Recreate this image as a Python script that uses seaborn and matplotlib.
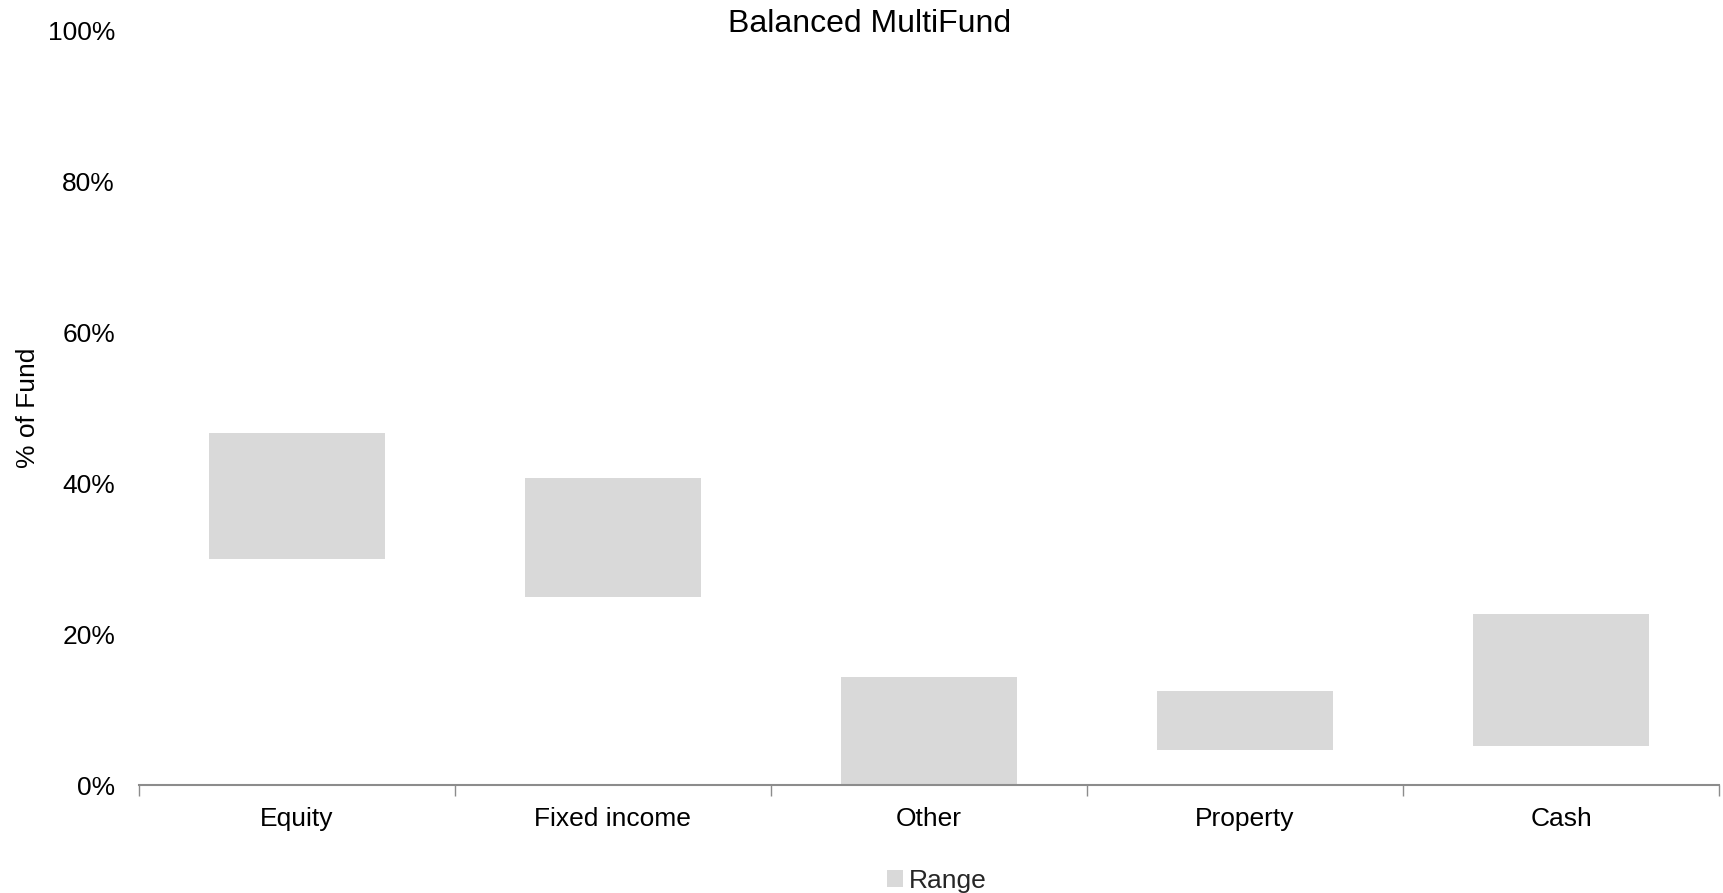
import matplotlib
matplotlib.use("Agg")
import matplotlib.pyplot as plt
from matplotlib.patches import Patch
from matplotlib.ticker import FixedLocator
import seaborn as sns
import pandas as pd

# Allocation ranges (% of fund)
categories = ["Equity", "Fixed income", "Other", "Property", "Cash"]
range_low = [30.0, 24.9, 0.0, 4.7, 5.2]
range_high = [46.6, 40.7, 14.3, 12.5, 22.6]
y_ticks = [0, 20, 40, 60, 80, 100]
y_tick_labels = ["0%", "20%", "40%", "60%", "80%", "100%"]

sns.set_theme(style="white")
plt.rcParams["font.family"] = ["Liberation Sans", "DejaVu Sans"]

df = pd.DataFrame({
    "category": categories,
    "low": range_low,
    "span": [h - l for h, l in zip(range_high, range_low)],
})

fig = plt.figure(figsize=(17.23, 8.93), dpi=100)
ax = fig.add_axes([0.0805, 0.1209, 0.9172, 0.8453])

sns.barplot(data=df, x="category", y="span", bottom=df["low"].to_numpy(),
            color="#D9D9D9", saturation=1, width=0.557, linewidth=0,
            order=categories, ax=ax)

ax.set_xlim(-0.5, len(categories) - 0.5)
ax.set_ylim(0, 100)
ax.set_yticks(y_ticks)
ax.set_yticklabels(y_tick_labels, fontsize=19, color="black")
ax.tick_params(axis="y", length=0, pad=17)

ax.set_xticks(range(len(categories)))
ax.set_xticklabels(categories, fontsize=19, color="black")
ax.tick_params(axis="x", which="major", length=0, pad=16)
ax.xaxis.set_minor_locator(FixedLocator([i - 0.5 for i in range(len(categories) + 1)]))
ax.tick_params(axis="x", which="minor", bottom=True, length=8, width=1.0,
               color="#8C8C8C", direction="out")

for side in ["top", "right", "left"]:
    ax.spines[side].set_visible(False)
ax.spines["bottom"].set_color("#8C8C8C")
ax.spines["bottom"].set_linewidth(1.5)

ax.set_xlabel("")
ax.set_ylabel("% of Fund", fontsize=19, color="black")
ax.yaxis.set_label_coords(-0.0625, 0.5)

fig.text(870 / 1723, 1 - 24 / 893, "Balanced MultiFund", fontsize=23,
         ha="center", va="center", color="black")

handle = Patch(facecolor="#D9D9D9", edgecolor="none", label="Range")
fig.legend(handles=[handle], loc="center", bbox_to_anchor=(937 / 1723, 1 - 881 / 893),
           frameon=False, fontsize=19, handlelength=0.6, handleheight=0.6,
           handletextpad=0.25, borderpad=0, borderaxespad=0)

fig.savefig("out.png", dpi=100)
